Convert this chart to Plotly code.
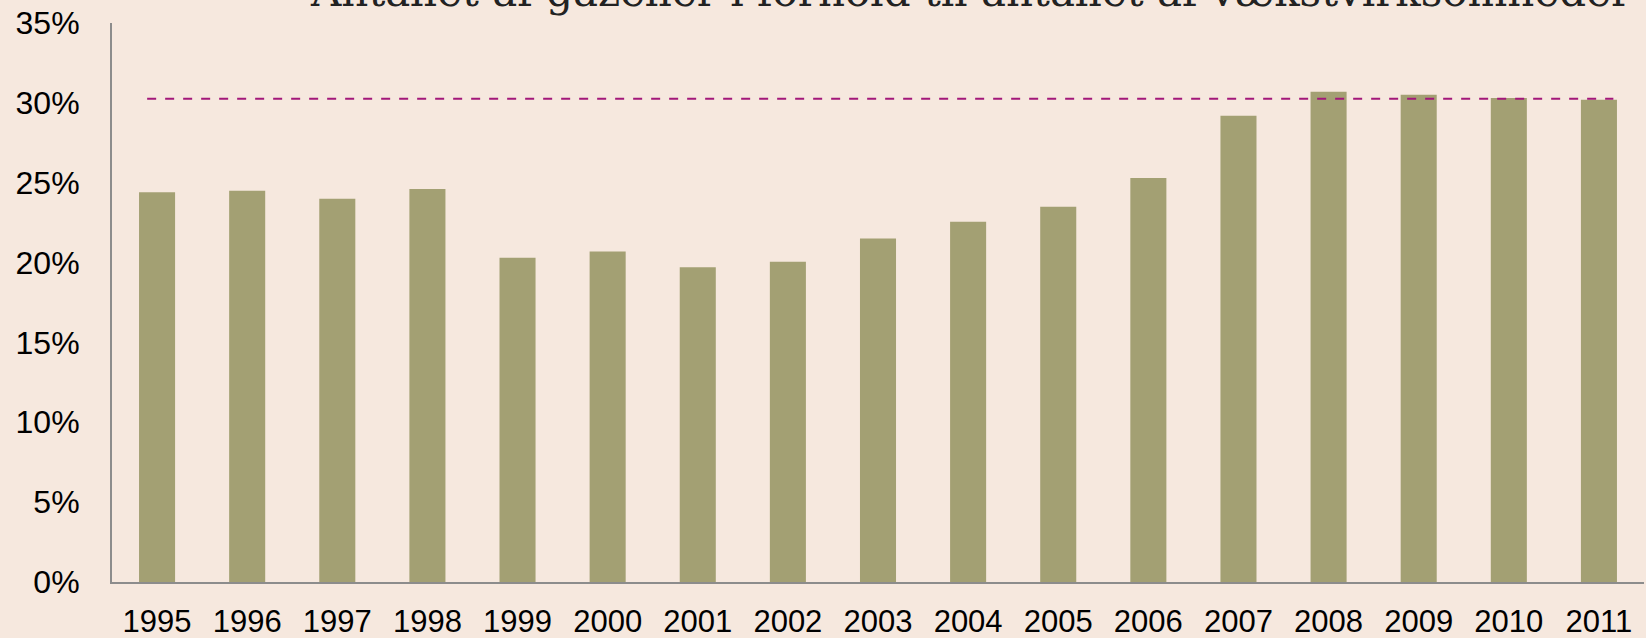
import plotly.graph_objects as go

years = ["1995", "1996", "1997", "1998", "1999", "2000", "2001", "2002", "2003",
         "2004", "2005", "2006", "2007", "2008", "2009", "2010", "2011"]
share = [24.4, 24.5, 24.0, 24.6, 20.3, 20.7, 19.7, 20.05, 21.5,
         22.55, 23.5, 25.3, 29.2, 30.7, 30.5, 30.3, 30.2]
reference_level = 30.26
y_ticks = [0, 5, 10, 15, 20, 25, 30, 35]
y_tick_labels = ["0%", "5%", "10%", "15%", "20%", "25%", "30%", "35%"]
title_text = "Antallet af gazeller i forhold til antallet af vækstvirksomheder"

BG = "#F6E8DE"
BAR = "#A3A073"
DASH = "#A3177A"

xpos = list(range(len(years)))

fig = go.Figure()
fig.add_trace(go.Bar(x=xpos, y=share, marker=dict(color=BAR, line=dict(width=0)),
                     width=0.4, showlegend=False))
fig.add_trace(go.Scatter(x=[xpos[0] - 0.11, xpos[-1] + 0.16],
                         y=[reference_level, reference_level], mode="lines",
                         line=dict(color=DASH, width=2, dash="dash"), showlegend=False))

fig.update_layout(
    width=1646, height=638,
    paper_bgcolor=BG, plot_bgcolor=BG,
    margin=dict(l=112, r=2, t=23, b=56),
    font=dict(family="Liberation Sans, Arial, sans-serif", color="#000000"),
    xaxis=dict(range=[-0.5, len(years) - 0.5], tickmode="array", tickvals=xpos,
               ticktext=years, showgrid=False, zeroline=False, showline=True,
               linecolor="#8C8C8C", linewidth=2, ticks="outside", ticklen=11,
               tickcolor="rgba(0,0,0,0)", tickfont=dict(size=31), automargin=False),
    yaxis=dict(range=[0, 35], tickmode="array", tickvals=y_ticks, ticktext=y_tick_labels,
               showgrid=False, zeroline=False, showline=True, linecolor="#8C8C8C",
               linewidth=2, ticks="outside", ticklen=24, tickcolor="rgba(0,0,0,0)",
               tickfont=dict(size=32), automargin=False),
    annotations=[dict(text=title_text, xref="paper", yref="paper", x=0.561, y=1,
                      xanchor="center", yanchor="bottom", yshift=5, showarrow=False,
                      font=dict(family="DejaVu Serif, serif", size=42, color="#222222"))],
)

fig.write_html("out.html", config={"displayModeBar": False},
               post_script="document.body.style.margin='0';document.body.style.overflow='hidden';")
